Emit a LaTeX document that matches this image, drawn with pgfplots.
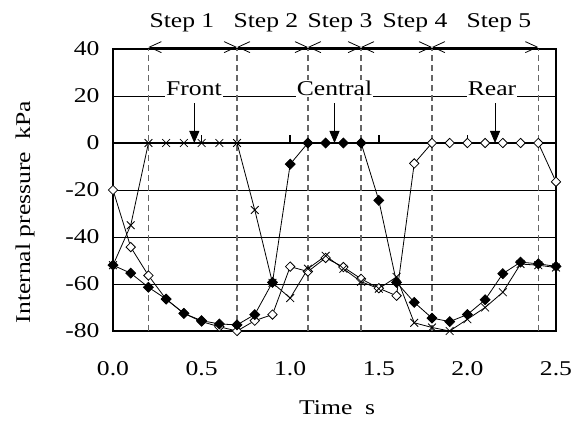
\documentclass[border=0pt]{standalone}
\usepackage{fontspec}
\setmainfont{Liberation Serif}[FakeStretch=1.22]
\usepackage{pgfplots}
\pgfplotsset{compat=1.18}
\usetikzlibrary{arrows.meta,calc}

\pgfplotstableread{
t p
0.0 -52
0.1 -35
0.2 0
0.3 0
0.4 0
0.5 0
0.6 0
0.7 0
0.8 -28.5
0.9 -59.5
1.0 -66
1.1 -53.5
1.2 -48
1.3 -53.5
1.4 -59
1.5 -62
1.6 -57
1.7 -76.5
1.8 -78.5
1.9 -80
2.0 -75
2.1 -70
2.2 -63.5
2.3 -51.5
2.4 -52
2.5 -53
}\front

\pgfplotstableread{
t p
0.0 -52
0.1 -55.4
0.2 -61.4
0.3 -66.4
0.4 -72.5
0.5 -75.6
0.6 -77
0.7 -77.4
0.8 -73
0.9 -59.3
1.0 -9
1.1 0
1.2 0
1.3 0
1.4 0
1.5 -24.4
1.6 -59.3
1.7 -67.8
1.8 -74.5
1.9 -76
2.0 -73
2.1 -66.7
2.2 -55.6
2.3 -50.7
2.4 -51.4
2.5 -52.5
}\central

\pgfplotstableread{
t p
0.0 -20
0.1 -44.3
0.2 -56.4
0.3 -66.5
0.4 -72.5
0.5 -76
0.6 -78.2
0.7 -80
0.8 -75.6
0.9 -73
1.0 -52.6
1.1 -54.7
1.2 -48.9
1.3 -52.8
1.4 -57.8
1.5 -61.8
1.6 -65
1.7 -8.7
1.8 0
1.9 0
2.0 0
2.1 0
2.2 0
2.3 0
2.4 0
2.5 -16.5
}\rear

\begin{document}
\begin{tikzpicture}[font=\fontsize{21}{25}\selectfont]
\begin{axis}[
  scale only axis, width=443pt, height=282pt,
  xmin=0, xmax=2.5, ymin=-80, ymax=40,
  axis line style={line width=1.6pt},
  xtick={0,0.5,1,1.5,2,2.5},
  xticklabels={0.0,0.5,1.0,1.5,2.0,2.5},
  ytick={-80,-60,-40,-20,0,20,40},
  yticklabels={-80,-60,-40,-20,0,20,40},
  x tick style={draw=none}, y tick style={draw=none},
  ymajorgrids, grid style={black, line width=0.8pt},
  xticklabel style={yshift=-27pt},
  yticklabel style={xshift=-10pt},
  clip=false,
]
\coordinate (SW) at (rel axis cs:0,0);
% step boundaries
\draw[black!60, line width=1.3pt, dash pattern=on 6pt off 4pt] (axis cs:0.2,-80) -- (axis cs:0.2,40);
\draw[black!60, line width=1.3pt, dash pattern=on 6pt off 4pt] (axis cs:0.7,-80) -- (axis cs:0.7,40);
\draw[black!60, line width=1.3pt, dash pattern=on 6pt off 4pt] (axis cs:1.1,-80) -- (axis cs:1.1,40);
\draw[black!60, line width=1.3pt, dash pattern=on 6pt off 4pt] (axis cs:1.4,-80) -- (axis cs:1.4,40);
\draw[black!60, line width=1.3pt, dash pattern=on 6pt off 4pt] (axis cs:1.8,-80) -- (axis cs:1.8,40);
\draw[black!60, line width=1.3pt, dash pattern=on 6pt off 4pt] (axis cs:2.4,-80) -- (axis cs:2.4,40);
% zero axis with ticks
\draw[line width=1.8pt] (axis cs:0,0) -- (axis cs:2.5,0);
\draw[line width=1.5pt] (axis cs:0.5,0) -- ++(0pt,8pt);
\draw[line width=1.5pt] (axis cs:1.0,0) -- ++(0pt,8pt);
\draw[line width=1.5pt] (axis cs:1.5,0) -- ++(0pt,8pt);
\draw[line width=1.5pt] (axis cs:2.0,0) -- ++(0pt,8pt);

\addplot[black, line width=0.8pt, mark=square*, mark size=3.3pt,
  mark options={rotate=45, fill=white, draw=black, line width=0.8pt}] table[x=t,y=p] {\rear};
\addplot[black, line width=0.8pt, mark=x, mark size=5.5pt,
  mark options={line width=0.8pt}] table[x=t,y=p] {\front};
\addplot[black, line width=0.8pt, mark=square*, mark size=3.5pt,
  mark options={rotate=45, fill=black, line width=0.8pt}] table[x=t,y=p] {\central};

% region labels
\node[fill=white, inner sep=1pt, anchor=base] at (axis cs:0.457,20) {Front};
\node[fill=white, inner sep=1pt, anchor=base] at (axis cs:1.25,20) {Central};
\node[fill=white, inner sep=1pt, anchor=base] at (axis cs:2.139,20) {Rear};
\draw[line width=0.8pt, -{Triangle[length=12pt,width=10pt]}] (axis cs:0.459,17) -- (axis cs:0.459,0);
\draw[line width=0.8pt, -{Triangle[length=12pt,width=10pt]}] (axis cs:1.25,17) -- (axis cs:1.25,0);
\draw[line width=0.8pt, -{Triangle[length=12pt,width=10pt]}] (axis cs:2.156,17) -- (axis cs:2.156,0);

% step arrows
\draw[line width=0.8pt, {Straight Barb[length=12pt,width=11pt]}-{Straight Barb[length=12pt,width=11pt]}] (axis cs:0.2,40.8) -- (axis cs:0.7,40.8);
\draw[line width=0.8pt, {Straight Barb[length=12pt,width=11pt]}-{Straight Barb[length=12pt,width=11pt]}] (axis cs:0.7,40.8) -- (axis cs:1.1,40.8);
\draw[line width=0.8pt, {Straight Barb[length=12pt,width=11pt]}-{Straight Barb[length=12pt,width=11pt]}] (axis cs:1.1,40.8) -- (axis cs:1.4,40.8);
\draw[line width=0.8pt, {Straight Barb[length=12pt,width=11pt]}-{Straight Barb[length=12pt,width=11pt]}] (axis cs:1.4,40.8) -- (axis cs:1.8,40.8);
\draw[line width=0.8pt, {Straight Barb[length=12pt,width=11pt]}-{Straight Barb[length=12pt,width=11pt]}] (axis cs:1.8,40.8) -- (axis cs:2.4,40.8);
\node[anchor=base] at (axis cs:0.389,49) {Step 1};
\node[anchor=base] at (axis cs:0.863,49) {Step 2};
\node[anchor=base] at (axis cs:1.281,49) {Step 3};
\node[anchor=base] at (axis cs:1.704,49) {Step 4};
\node[anchor=base] at (axis cs:2.178,49) {Step 5};

% axis titles
\node[rotate=90] at ($(rel axis cs:0,0.422)+(-88pt,0pt)$) {Internal pressure\hspace{0.3em} kPa};
\node at ($(rel axis cs:0.506,0)+(0pt,-77pt)$) {Time\hspace{0.3em} s};
\end{axis}
\pgfresetboundingbox
\path[use as bounding box] ($(SW)+(-113pt,-100pt)$) rectangle ++(578pt,431pt);
\end{tikzpicture}
\end{document}
